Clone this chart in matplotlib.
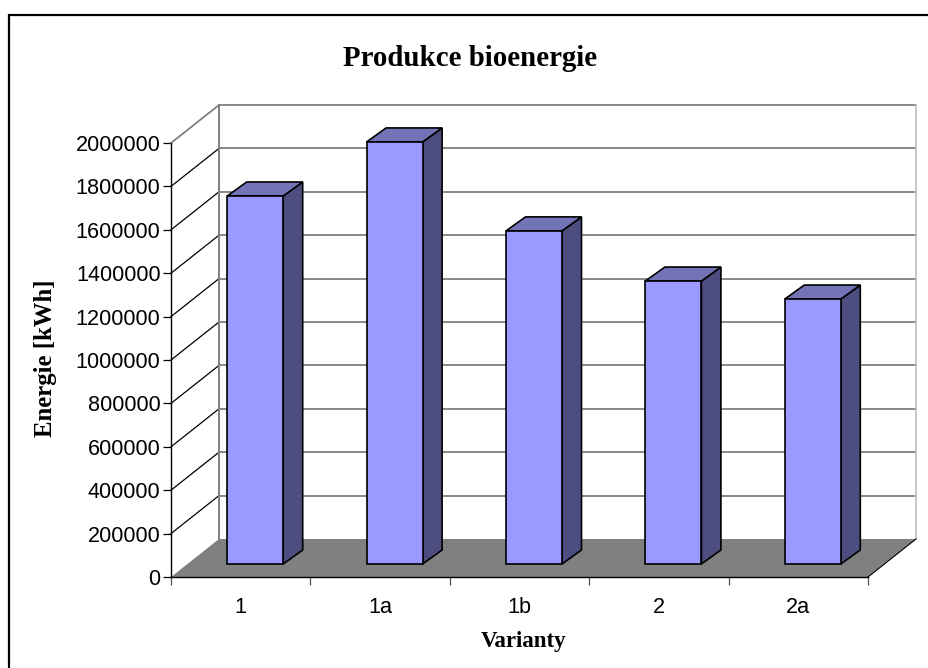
import matplotlib
matplotlib.use("Agg")
import matplotlib.pyplot as plt
from matplotlib.patches import Polygon
from matplotlib.lines import Line2D

categories = ["1", "1a", "1b", "2", "2a"]
energy = [1696000, 1945000, 1535000, 1304000, 1221000]
y_ticks = [0, 200000, 400000, 600000, 800000, 1000000, 1200000, 1400000, 1600000, 1800000, 2000000]

W, H = 929, 668
left, right, top, bottom = 171, 868, 143, 577

plt.rcParams["font.family"] = ["Liberation Sans", "DejaVu Sans"]
fig = plt.figure(figsize=(W / 100, H / 100), dpi=100)
ax = fig.add_axes([left / W, 1 - bottom / H, (right - left) / W, (bottom - top) / H])
ax.set_xlim(0, len(categories))
ax.set_ylim(0, 2000000)
ax.patch.set_visible(False)

# pixel sizes in data units, the 3d look is only skewed polygons
px = len(categories) / (right - left)
py = 2000000 / (bottom - top)
wall_dx, wall_dy = 48 * px, 38 * py
bar_dx, bar_dy = 14.5 * px, 13 * py
side_dx, side_dy = 19.5 * px, 14 * py
bar_w = 56 * px
n = len(categories)
ymax = y_ticks[-1]


def poly(points, face, edge="none", lw=0, z=1):
    ax.add_patch(Polygon(points, closed=True, facecolor=face, edgecolor=edge, linewidth=lw,
                         joinstyle="miter", clip_on=False, zorder=z))


# floor
poly([(0, 0), (n, 0), (n + wall_dx, wall_dy), (wall_dx, wall_dy)], "#808080", z=1)

# back wall and side wall lines
for t in y_ticks[1:]:
    c = "#808080" if t == ymax else "black"
    ax.plot([0, wall_dx], [t, t + wall_dy], color=c, lw=0.9 if t != ymax else 1.3, clip_on=False, zorder=2)
    ax.plot([wall_dx, n + wall_dx], [t + wall_dy, t + wall_dy], color="#808080", lw=1.3, clip_on=False, zorder=2)
ax.plot([wall_dx, wall_dx], [wall_dy, ymax + wall_dy], color="#808080", lw=1.4, clip_on=False, zorder=2)
ax.plot([n + wall_dx, n + wall_dx], [wall_dy, ymax + wall_dy], color="#c0c0c0", lw=1.2, clip_on=False, zorder=2)
ax.plot([n, n + wall_dx], [0, wall_dy], color="black", lw=0.8, clip_on=False, zorder=2)

# bars
for i, v in enumerate(energy):
    x0 = i + 0.5 + bar_dx - bar_w / 2
    x1 = x0 + bar_w
    y0 = bar_dy
    y1 = bar_dy + v
    poly([(x1, y0), (x1 + side_dx, y0 + side_dy), (x1 + side_dx, y1 + side_dy), (x1, y1)],
         "#4d4d80", "black", 1.2, z=3)
    poly([(x0, y1), (x1, y1), (x1 + side_dx, y1 + side_dy), (x0 + side_dx, y1 + side_dy)],
         "#7373b8", "black", 1.2, z=3)
    poly([(x0, y0), (x1, y0), (x1, y1), (x0, y1)], "#9999ff", "black", 1.2, z=4)

# axes
for s in ["top", "right"]:
    ax.spines[s].set_visible(False)
for s in ["left", "bottom"]:
    ax.spines[s].set_linewidth(1.0)
    ax.spines[s].set_zorder(5)
ax.set_yticks(y_ticks)
ax.set_yticklabels([str(t) for t in y_ticks])
ax.tick_params(axis="y", length=5.5, width=0.9, pad=2, labelsize=15.6)
ax.set_xticks(range(n + 1))
ax.set_xticklabels([])
ax.tick_params(axis="x", which="major", length=6, width=0.9, color="#505050")
ax.set_xticks([i + 0.5 for i in range(n)], minor=True)
ax.set_xticklabels(categories, minor=True)
ax.tick_params(axis="x", which="minor", length=0, pad=14.5, labelsize=15.6)

fig.text(470 / W, 1 - 58 / H, "Produkce bioenergie", family="Liberation Serif", weight="bold",
         fontsize=20.8, ha="center", va="center")
fig.text(524 / W, 1 - 641 / H, "Varianty", family="Liberation Serif", weight="bold",
         fontsize=16.5, ha="center", va="center")
fig.text(46 / W, 1 - 358 / H, "Energie [kWh]", family="Liberation Serif", weight="bold",
         fontsize=17.8, ha="center", va="center", rotation=90)

# chart frame, only top and left are in the picture
fig.add_artist(Line2D([8.5 / W, 8.5 / W, 1], [0, 1 - 14.5 / H, 1 - 14.5 / H], color="black", lw=1.6,
                      solid_joinstyle="miter", transform=fig.transFigure))

fig.savefig("out.png", dpi=100)
